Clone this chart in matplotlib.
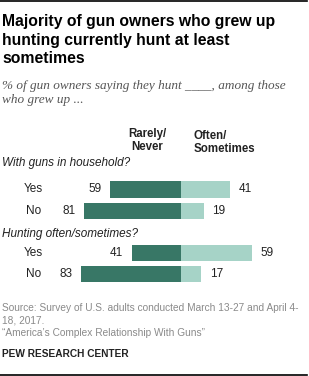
import matplotlib.pyplot as plt

# ── данные ────────────────────────────────────────────────────────────────
groups = ["With guns in household?", "Hunting often/sometimes?"]
rows = ["Yes", "No", "Yes", "No"]
rarely = [59, 81, 41, 83]
often = [41, 19, 59, 17]

DARK = "#387766"
LIGHT = "#a6d3c7"
GRAY = "#8a8a8a"
TXT = "#222222"

W, H = 309, 376
fig = plt.figure(figsize=(W / 100, H / 100), dpi=100, facecolor="white")

# оси на всю фигуру: x в процентах (0 на 181 px, 1.2 px на пункт), y в пикселях
ax = fig.add_axes([0, 0, 1, 1])
ax.set_xlim(-181 / 1.2, (W - 181) / 1.2)
ax.set_ylim(H, 0)
ax.axis("off")

ys = [189.5, 211, 253, 274]
bh = 16.5
ax.barh(ys, [-v for v in rarely], height=bh, color=DARK, lw=0)
ax.barh(ys, often, height=bh, color=LIGHT, lw=0)

sans = ["Liberation Sans", "DejaVu Sans"]
for y, lab, r, o in zip(ys, rows, rarely, often):
    ax.text(-123, y, lab, ha="center", va="center", fontsize=8.5,
            color=TXT, family=sans)
    ax.text(-r - 7, y, str(r), ha="right", va="center", fontsize=8.5,
            color=TXT, family=sans)
    ax.text(o + 7, y, str(o), ha="left", va="center", fontsize=8.5,
            color=TXT, family=sans)


def px(x, y):
    return x / W, 1 - y / H


# линии сверху и снизу
ax.plot([-181 / 1.2, (307 - 181) / 1.2], [1, 1], color="black", lw=1.2,
        clip_on=False)
ax.plot([-181 / 1.2, (307 - 181) / 1.2], [374.5, 374.5], color="black",
        lw=1.2, clip_on=False)

fig.text(*px(2, 14), "Majority of gun owners who grew up\n"
         "hunting currently hunt at least\nsometimes",
         ha="left", va="top", fontsize=11.3, fontweight="bold",
         color="black", family=sans, linespacing=1.3)
fig.text(*px(2, 80), "% of gun owners saying they hunt ____, among those\n"
         "who grew up ...", ha="left", va="top", fontsize=9.5,
         style="italic", color="#555555",
         family=["Liberation Serif", "DejaVu Serif"], linespacing=1.25)

fig.text(*px(147, 128), "Rarely/\nNever", ha="center", va="top",
         fontsize=8.3, fontweight="bold", color=TXT, family=sans,
         linespacing=1.1)
fig.text(*px(194, 130), "Often/\nSometimes", ha="left", va="top",
         fontsize=8.3, fontweight="bold", color=TXT, family=sans,
         linespacing=1.1)

for y, g in zip([163, 234], groups):
    fig.text(*px(2, y), g, ha="left", va="center", fontsize=8.5,
             style="italic", color=TXT, family=sans)

fig.text(*px(2, 303), "Source: Survey of U.S. adults conducted March 13-27 "
         "and April 4-\n18, 2017.\n\u201cAmerica\u2019s Complex "
         "Relationship With Guns\u201d", ha="left", va="top", fontsize=7.3,
         color=GRAY, family=sans, linespacing=1.3)
fig.text(*px(2, 354), "PEW RESEARCH CENTER", ha="left", va="center",
         fontsize=7.3, fontweight="bold", color=TXT, family=sans)

fig.savefig("out.png", dpi=100, facecolor="white")
